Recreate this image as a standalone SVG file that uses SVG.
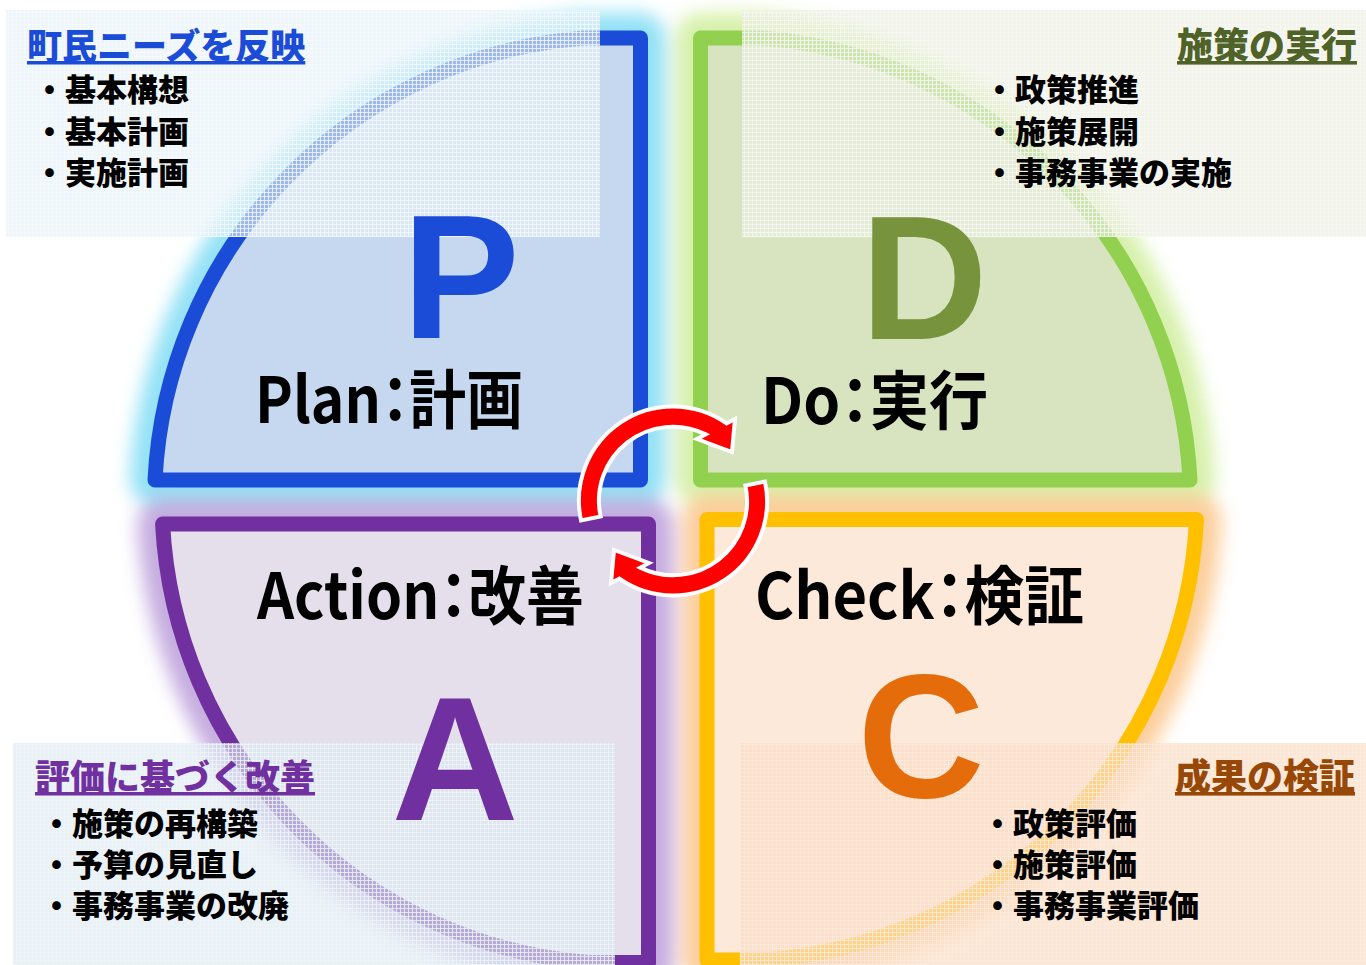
<svg xmlns="http://www.w3.org/2000/svg" width="1366" height="965" viewBox="0 0 1366 965">
<defs>
<style>
.lbl{font-family:"Noto Sans CJK JP","Liberation Sans",sans-serif;font-weight:700;font-size:64px;fill:#000;font-feature-settings:"palt" 1}
.big{font-family:"Liberation Sans",Arial,sans-serif;font-weight:700;font-size:176px;text-anchor:middle}
.ttl{font-family:"Noto Sans CJK JP",sans-serif;font-weight:900;text-decoration:underline}
.item{font-family:"Noto Sans CJK JP",sans-serif;font-weight:900;font-size:31px;fill:#000}
.q{stroke-width:15;stroke-linejoin:round}
.gl{stroke-width:50;stroke-linejoin:round}
.arr{fill:#ff0000;stroke:#ffffff;stroke-width:4;stroke-linejoin:miter}
</style>
<filter id="blur" x="-20%" y="-20%" width="140%" height="140%"><feGaussianBlur stdDeviation="9"/></filter>
<pattern id="ptl" width="4" height="4" patternUnits="userSpaceOnUse"><rect width="4" height="4" fill="#e6f1f8" fill-opacity="0.65"/><rect width="4" height="1" fill="#f4fafd" fill-opacity="0.8"/><rect width="1" height="4" fill="#f4fafd" fill-opacity="0.8"/></pattern>
<pattern id="ptr" width="4" height="4" patternUnits="userSpaceOnUse"><rect width="4" height="4" fill="#eceee2" fill-opacity="0.65"/><rect width="4" height="1" fill="#f7f8f2" fill-opacity="0.8"/><rect width="1" height="4" fill="#f7f8f2" fill-opacity="0.8"/></pattern>
<pattern id="pbl" width="4" height="4" patternUnits="userSpaceOnUse"><rect width="4" height="4" fill="#deeaf2" fill-opacity="0.65"/><rect width="4" height="1" fill="#eef5f9" fill-opacity="0.8"/><rect width="1" height="4" fill="#eef5f9" fill-opacity="0.8"/></pattern>
<pattern id="pbr" width="4" height="4" patternUnits="userSpaceOnUse"><rect width="4" height="4" fill="#fcdcc4" fill-opacity="0.7"/><rect width="4" height="1" fill="#fdebdd" fill-opacity="0.8"/><rect width="1" height="4" fill="#fdebdd" fill-opacity="0.8"/></pattern>
<path id="shP" d="M640.5,480 L155,480 A466.5,466.5 0 0 1 584,38 L640.5,38 Z"/>
<path id="shD" d="M700.5,480 L1190,480 A466.5,466.5 0 0 0 761,38 L700.5,38 Z"/>
<path id="shA" d="M648.5,524 L162.6,524 A464,464 0 0 0 589,962.5 L648.5,962.5 Z"/>
<path id="shC" d="M707,519.5 L1196.5,519.5 A464,464 0 0 1 763.4,960 L707,960 Z"/>
<path id="arw" d="M581.05,520.5 A94,94 0 0 1 726.6,423.4 L735,419 L732,452 L697,439 L705.7,434.4 A74,74 0 0 0 600.6,516.4 Z"/>
</defs>
<rect width="1366" height="965" fill="#ffffff"/>
<g id="glow" filter="url(#blur)" opacity="0.9">
<use href="#shP" class="gl" fill="#86def5" stroke="#86def5"/>
<use href="#shD" class="gl" fill="#d2efa2" stroke="#d2efa2"/>
<use href="#shA" class="gl" fill="#bfa3dc" stroke="#bfa3dc"/>
<use href="#shC" class="gl" fill="#fcc991" stroke="#fcc991"/>
</g>
<g id="node-plan">
<use href="#shP" class="q" fill="#c6d8ef" stroke="#1b4cd8"/>
<rect x="6" y="10" width="594" height="227" fill="url(#ptl)"/>
<text x="461" y="338" class="big" fill="#1b4cd8">P</text>
<text x="255" y="423" class="lbl" textLength="268" lengthAdjust="spacingAndGlyphs">Plan：計画</text>
<text x="27" y="59" class="ttl" font-size="35" fill="#1b4cd8">町民ニーズを反映</text>
<text x="34" y="101" class="item">・基本構想</text>
<text x="34" y="143" class="item">・基本計画</text>
<text x="34" y="184" class="item">・実施計画</text>
</g>
<g id="node-do">
<use href="#shD" class="q" fill="#d8e4bf" stroke="#92d050"/>
<rect x="742" y="10" width="624" height="227" fill="url(#ptr)"/>
<text x="924" y="339" class="big" fill="#77933c">D</text>
<text x="761" y="424" class="lbl" textLength="227" lengthAdjust="spacingAndGlyphs">Do：実行</text>
<text x="1357" y="59" class="ttl" font-size="36" fill="#4f6228" text-anchor="end">施策の実行</text>
<text x="984" y="101" class="item">・政策推進</text>
<text x="984" y="143" class="item">・施策展開</text>
<text x="984" y="184" class="item">・事務事業の実施</text>
</g>
<g id="node-action">
<use href="#shA" class="q" fill="#e5dfec" stroke="#7030a0"/>
<rect x="13" y="743" width="602" height="222" fill="url(#pbl)"/>
<text x="455" y="820" class="big" fill="#7030a0">A</text>
<text x="257" y="619" class="lbl" textLength="327" lengthAdjust="spacingAndGlyphs">Action：改善</text>
<text x="35" y="790" class="ttl" font-size="35" fill="#7030a0">評価に基づく改善</text>
<text x="41" y="835" class="item">・施策の再構築</text>
<text x="41" y="876" class="item">・予算の見直し</text>
<text x="41" y="917" class="item">・事務事業の改廃</text>
</g>
<g id="node-check">
<use href="#shC" class="q" fill="#fde9d9" stroke="#ffc000"/>
<rect x="740" y="743" width="626" height="222" fill="url(#pbr)"/>
<text x="921" y="797" class="big" fill="#e46c0a">C</text>
<text x="755" y="619" class="lbl" textLength="329" lengthAdjust="spacingAndGlyphs">Check：検証</text>
<text x="1355" y="790" class="ttl" font-size="36" fill="#984806" text-anchor="end">成果の検証</text>
<text x="982" y="835" class="item">・政策評価</text>
<text x="982" y="876" class="item">・施策評価</text>
<text x="982" y="917" class="item">・事務事業評価</text>
</g>
<g id="connectors">
<use id="arrow-top" href="#arw" class="arr"/>
<use id="arrow-bottom" href="#arw" class="arr" transform="rotate(180 673 501)"/>
</g>
</svg>
